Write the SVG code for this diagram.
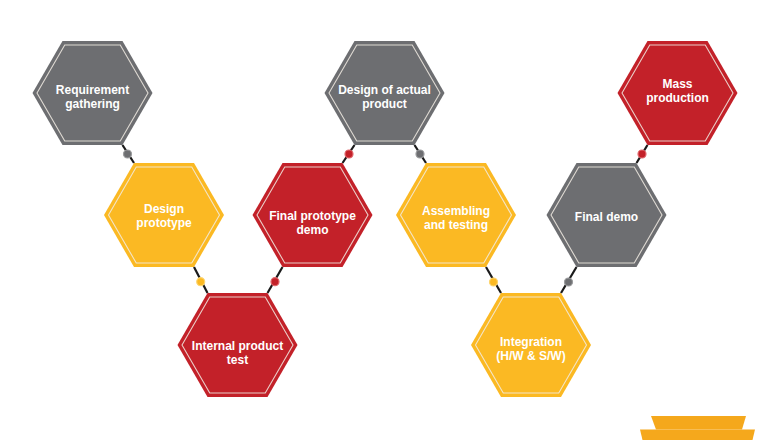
<svg xmlns="http://www.w3.org/2000/svg" width="770" height="440" viewBox="0 0 770 440">
<style>
.gray{fill:#6d6e71}
.yellow{fill:#fbb923}
.red{fill:#c32129}
.inner{fill:none;stroke:#f2ece4;stroke-width:1.1;stroke-opacity:0.85}
.lbl{font-family:"Liberation Sans",Arial,sans-serif;font-weight:700;font-size:12px;fill:#ffffff;text-anchor:middle}
.conn line{stroke:#1a1a1a;stroke-width:2.2}
.dot{stroke-width:1.2}
.dg{fill:#6d6e71;stroke:#9a9b9d}
.dy{fill:#fbb923;stroke:#fdd56f}
.dr{fill:#c32129;stroke:#e0666b}
</style>
<defs>
<polygon id="hex" points="-60,0 -30,-52 30,-52 60,0 30,52 -30,52"/>
<polygon id="hexIn" points="-55.5,0 -27.75,-48 27.75,-48 55.5,0 27.75,48 -27.75,48"/>
</defs>
<rect width="770" height="440" fill="#ffffff"/>
<g id="connectors" class="conn">
<line x1="122.5" y1="145" x2="134" y2="163"/>
<line x1="194" y1="267" x2="207.5" y2="293"/>
<line x1="267.5" y1="293" x2="282.5" y2="267"/>
<line x1="342.5" y1="163" x2="354.5" y2="145"/>
<line x1="414.5" y1="145" x2="426" y2="163"/>
<line x1="486" y1="267" x2="501" y2="293"/>
<line x1="561" y1="293" x2="576.5" y2="267"/>
<line x1="636.5" y1="163" x2="647.5" y2="145"/>
<circle class="dot dg" cx="127.5" cy="154" r="4"/>
<circle class="dot dy" cx="200.7" cy="281.7" r="4"/>
<circle class="dot dr" cx="275" cy="281.7" r="4"/>
<circle class="dot dr" cx="349" cy="154" r="4"/>
<circle class="dot dg" cx="420" cy="154" r="4"/>
<circle class="dot dy" cx="493.5" cy="282" r="4"/>
<circle class="dot dg" cx="568.5" cy="282" r="4"/>
<circle class="dot dr" cx="642" cy="154" r="4"/>
</g>
<g id="n1" transform="translate(92.5,93)">
<use href="#hex" class="gray"/><use href="#hexIn" class="inner"/>
<text class="lbl" y="0.5">Requirement</text><text class="lbl" y="14.5">gathering</text>
</g>
<g id="n2" transform="translate(164,215)">
<use href="#hex" class="yellow"/><use href="#hexIn" class="inner"/>
<text class="lbl" y="-2">Design</text><text class="lbl" y="12">prototype</text>
</g>
<g id="n3" transform="translate(237.5,345)">
<use href="#hex" class="red"/><use href="#hexIn" class="inner"/>
<text class="lbl" y="5">Internal product</text><text class="lbl" y="19">test</text>
</g>
<g id="n4" transform="translate(312.5,215)">
<use href="#hex" class="red"/><use href="#hexIn" class="inner"/>
<text class="lbl" y="4.5">Final prototype</text><text class="lbl" y="18.5">demo</text>
</g>
<g id="n5" transform="translate(384.5,93)">
<use href="#hex" class="gray"/><use href="#hexIn" class="inner"/>
<text class="lbl" y="1">Design of actual</text><text class="lbl" y="15">product</text>
</g>
<g id="n6" transform="translate(456,215)">
<use href="#hex" class="yellow"/><use href="#hexIn" class="inner"/>
<text class="lbl" y="0">Assembling</text><text class="lbl" y="14">and testing</text>
</g>
<g id="n7" transform="translate(531,345)">
<use href="#hex" class="yellow"/><use href="#hexIn" class="inner"/>
<text class="lbl" y="1">Integration</text><text class="lbl" y="15">(H/W &amp; S/W)</text>
</g>
<g id="n8" transform="translate(606.5,215)">
<use href="#hex" class="gray"/><use href="#hexIn" class="inner"/>
<text class="lbl" y="5.5">Final demo</text>
</g>
<g id="n9" transform="translate(677.5,93)">
<use href="#hex" class="red"/><use href="#hexIn" class="inner"/>
<text class="lbl" y="-5.5">Mass</text><text class="lbl" y="8.5">production</text>
</g>
<polygon points="651,416 746,416 742,429.5 656,429.5" fill="#f5a81c"/>
<polygon points="640,429.5 755,429.5 752.5,440 642.5,440" fill="#f5a81c"/>
</svg>
